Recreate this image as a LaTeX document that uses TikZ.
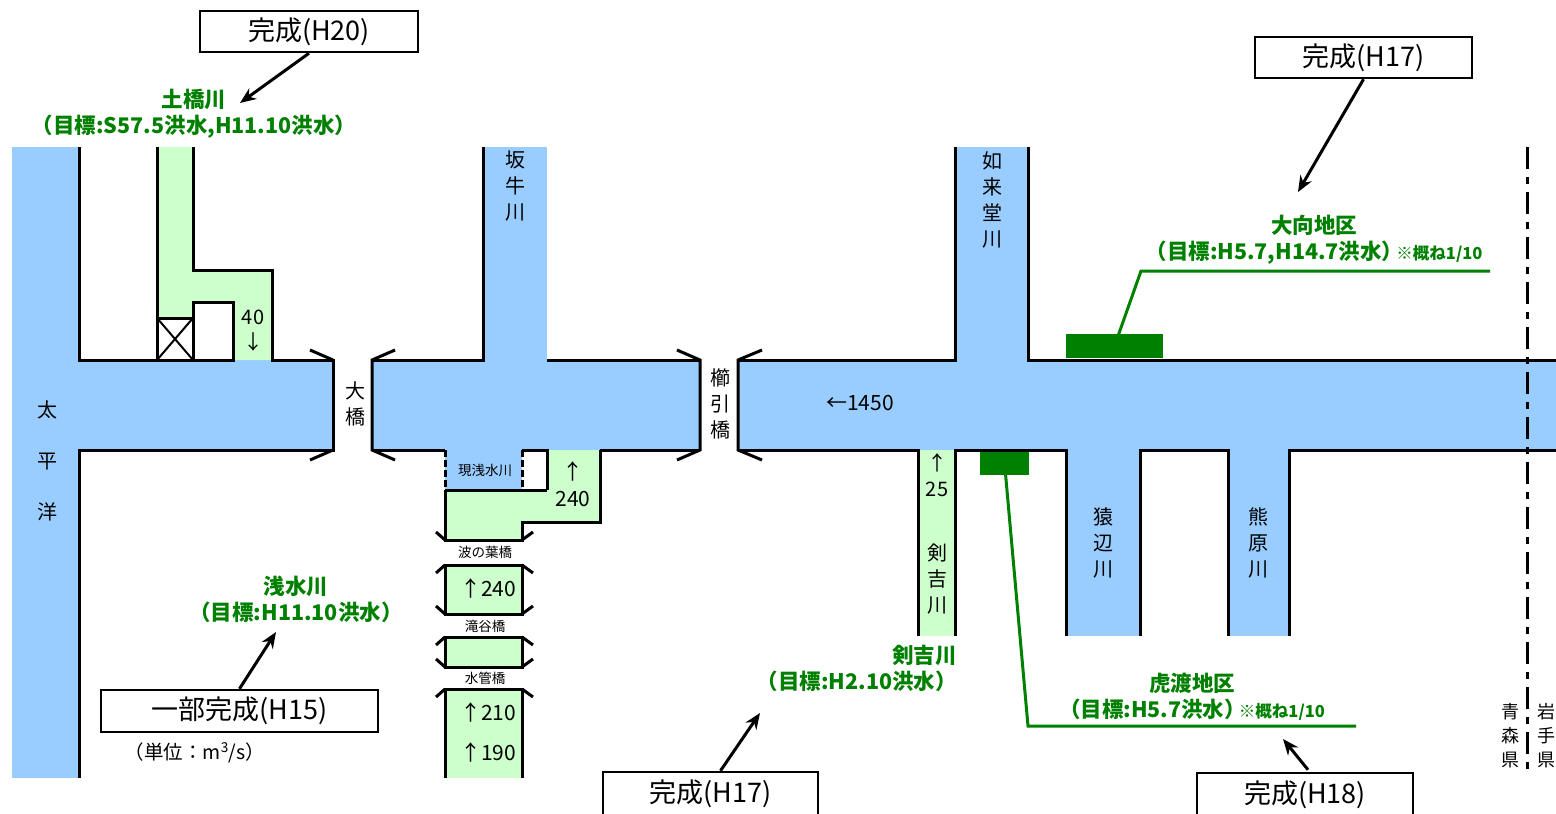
\documentclass[tikz,border=0pt]{standalone}
\usepackage{fontspec}
\setmainfont{Noto Sans CJK JP}
\usetikzlibrary{arrows.meta,calc}
\definecolor{riverblue}{RGB}{153,204,255}
\definecolor{lightgreen}{RGB}{204,255,204}
\definecolor{dkgreen}{RGB}{0,128,0}
\newcommand\gnotefont{\fontsize{16.5}{18}\selectfont\bfseries}
\begin{document}
\begin{tikzpicture}[x=1pt,y=-1pt,
  bank/.style={line width=3pt, line join=miter},
  flare/.style={line width=3pt},
  dashbank/.style={line width=3pt, dash pattern=on 7pt off 3pt},
  vtext/.style={align=center, inner sep=0pt, font=\fontsize{20}{26}\selectfont},
  numtext/.style={align=center, inner sep=0pt, font=\fontsize{21}{27}\selectfont},
  smalltext/.style={inner sep=0pt, font=\fontsize{13.5}{15}\selectfont},
  callout/.style={draw, line width=2.5pt, fill=white, inner sep=0pt, font=\fontsize{27}{30}\selectfont},
  glabel/.style={text=dkgreen, align=center, inner sep=0pt, font=\fontsize{21.5}{26}\selectfont\bfseries},
  leader/.style={draw=dkgreen, line width=3pt},
  callarrow/.style={line width=3pt, -{Stealth[length=16pt,width=13pt]}},
  border/.style={line width=3pt, dash pattern=on 22pt off 8pt on 7pt off 8pt}
]
\useasboundingbox (0,0) rectangle (1556,814);
% ---------- blue water ----------
\fill[riverblue] (12,147) rectangle (79,778);
\fill[riverblue] (79,360) rectangle (333,450);
\fill[riverblue] (372,360) rectangle (700,450);
\fill[riverblue] (483,147) rectangle (547,360);
\fill[riverblue] (445,450) rectangle (522,490);
\fill[riverblue] (738,360) rectangle (1556,450);
\fill[riverblue] (955,147) rectangle (1028,360);
\fill[riverblue] (1066,450) rectangle (1140,636);
\fill[riverblue] (1228,450) rectangle (1289,636);
% ---------- improved (green) channels ----------
\fill[lightgreen] (157,147) -- (193,147) -- (193,270) -- (272,270) -- (272,360) -- (157,360) -- cycle;
\fill[lightgreen] (547,450) -- (600,450) -- (600,522) -- (522,522) -- (522,540) -- (445,540) -- (445,490) -- (547,490) -- cycle;
\fill[lightgreen] (445,565) rectangle (522,614);
\fill[lightgreen] (445,637) rectangle (522,667);
\fill[lightgreen] (445,689) rectangle (522,778);
\fill[lightgreen] (918,450) rectangle (955,636);
% ---------- district markers ----------
\node[fill=dkgreen, inner sep=0pt, minimum width=97pt, minimum height=24pt] (oomuki) at (1114.5,346) {};
\node[fill=dkgreen, inner sep=0pt, minimum width=49pt, minimum height=25pt] (torawata) at (1004.5,462.5) {};
% ---------- banks ----------
\draw[bank] (79,147) -- (79,360) -- (157,360);
\draw[bank] (157,147) -- (157,360);
\draw[bank] (193,147) -- (193,270) -- (272,270) -- (272,360) -- (333,360) -- (333,450) -- (79,450) -- (79,778);
\draw[flare] (310,350) -- (333,360);
\draw[flare] (310,460) -- (333,450);
\draw[bank, fill=white] (193,302) rectangle (233,360);
\draw[bank, fill=white] (157,318) rectangle (193,360);
\draw[line width=2pt] (157,318) -- (193,360) (193,318) -- (157,360);
% segment 2
\draw[bank] (395,350) -- (372,360) -- (372,450) -- (395,460);
\draw[bank] (372,360) -- (483,360) -- (483,147);
\draw[bank] (547,360) -- (700,360);
\draw[bank] (677,350) -- (700,360) -- (700,450) -- (677,460);
\draw[bank] (372,450) -- (445,450);
\draw[bank] (522,450) -- (547,450) -- (547,490);
\draw[bank] (445,490) -- (547,490);
\draw[bank] (600,450) -- (700,450);
\draw[bank] (600,450) -- (600,522) -- (522,522) -- (522,540) -- (445,540) -- (445,490);
\draw[dashbank] (445,450) -- (445,490);
\draw[dashbank] (522,450) -- (522,490);
\draw[flare] (436,532) -- (445,540);
\draw[flare] (533,532) -- (522,540);
% box 2
\draw[bank] (445,565) rectangle (522,614);
\draw[flare] (436,573) -- (445,565) (533,573) -- (522,565) (436,606) -- (445,614) (533,606) -- (522,614);
% box 3
\draw[bank] (445,637) rectangle (522,667);
\draw[flare] (436,645) -- (445,637) (533,645) -- (522,637) (436,659) -- (445,667) (533,659) -- (522,667);
% box 4
\draw[bank] (445,778) -- (445,689) -- (522,689) -- (522,778);
\draw[flare] (436,697) -- (445,689) (533,697) -- (522,689);
% segment 3
\draw[bank] (762,350) -- (738,360) -- (738,450) -- (762,460);
\draw[bank] (738,360) -- (955,360) -- (955,147);
\draw[bank] (1028,147) -- (1028,360) -- (1556,360);
\draw[bank] (738,450) -- (918,450) -- (918,636);
\draw[bank] (955,636) -- (955,450) -- (1066,450) -- (1066,636);
\draw[bank] (1140,636) -- (1140,450) -- (1228,450) -- (1228,636);
\draw[bank] (1289,636) -- (1289,450) -- (1556,450);
% prefecture border
\draw[border] (1527,147) -- (1527,770);
% ---------- leaders ----------
\draw[leader] (oomuki.center) -- (1141,271) -- (1490,271);
\draw[leader] (torawata.center) -- (1028,726) -- (1356,726);
% ---------- labels on the water ----------
\node[vtext, font=\fontsize{20}{51}\selectfont] (taiheiyo) at (47,461) {太\\平\\洋};
\node[vtext] (oohashi) at (355,404) {大\\橋};
\node[vtext] (kushibiki) at (720,404) {櫛\\引\\橋};
\node[vtext] (sakaushi) at (515,186) {坂\\牛\\川};
\node[vtext] (nyoraido) at (992,200) {如\\来\\堂\\川};
\node[vtext] (saruhen) at (1103,543) {猿\\辺\\川};
\node[vtext] (kumahara) at (1258,543) {熊\\原\\川};
\node[vtext] (kenyoshiv) at (937,579) {剣\\吉\\川};
\node[numtext] (q1450) at (860,403) {←1450};
\node[numtext, font=\fontsize{20}{25}\selectfont] (q40) at (253,331) {40\\↓};
\node[numtext] (q240a) at (573,484) {↑\\240};
\node[numtext, font=\fontsize{20}{26}\selectfont] (q25) at (937,475) {↑\\25};
\node[numtext] (q240b) at (488,588) {↑240};
\node[numtext] (q210) at (488,712) {↑210};
\node[numtext] (q190) at (488,752) {↑190};
\node[smalltext] (genasa) at (485,470) {現浅水川};
\node[smalltext] (naminoha) at (485,552) {波の葉橋};
\node[smalltext] (takiya) at (485,626) {滝谷橋};
\node[smalltext] (suikan) at (485,678) {水管橋};
\node[vtext, font=\fontsize{18}{24}\selectfont] (aomori) at (1510,736) {青\\森\\県};
\node[vtext, font=\fontsize{18}{24}\selectfont] (iwate) at (1546,736) {岩\\手\\県};
% ---------- green target labels ----------
\node[glabel] (tsuchihashi) at (194,114) {土橋川\\（目標:S57.5洪水,H11.10洪水）};
\node[glabel] (oomukil) at (1314,240) {大向地区\\（目標:H5.7,H14.7洪水）\hspace{-7pt}{\gnotefont ※概ね1/10}};
\node[glabel] (asamizu) at (296,599) {浅水川\\（目標:H11.10洪水）};
\node[glabel, align=right, anchor=east] (kenyoshi) at (957,668) {剣吉川\hspace{4pt}\\（目標:H2.10洪水）};
\node[glabel] (torawatal) at (1192,697) {虎渡地区\\（目標:H5.7洪水）\hspace{-7pt}{\gnotefont ※概ね1/10}};
% ---------- completion callouts ----------
\node[callout, minimum width=218pt, minimum height=41pt] (h20) at (309,31.5) {完成(H20)};
\node[callout, minimum width=217pt, minimum height=41pt] (h17a) at (1363.5,57.5) {完成(H17)};
\node[callout, minimum width=277pt, minimum height=42pt] (h15) at (239.5,711) {一部完成(H15)};
\node[callout, minimum width=215pt, minimum height=44pt] (h17b) at (710.5,794) {完成(H17)};
\node[callout, minimum width=216pt, minimum height=44pt] (h18) at (1305,795) {完成(H18)};
\node[inner sep=0pt, font=\fontsize{19.5}{22}\selectfont] (unit) at (195,753) {（単位：m\textsuperscript{3}/s）};
\coordinate (t20) at (240,103);
\coordinate (t17a) at (1298,192);
\coordinate (t15) at (276,632);
\coordinate (t17b) at (760,713);
\coordinate (t18) at (1283,739);
\draw[callarrow] (h20.south) -- (t20);
\draw[callarrow] (h17a.south) -- (t17a);
\draw[callarrow] (h15.north) -- (t15);
\draw[callarrow] ($(h17b.north)+(10,0)$) -- (t17b);
\draw[callarrow] ($(h18.north)+(3,-2)$) -- (t18);
\end{tikzpicture}
\end{document}
